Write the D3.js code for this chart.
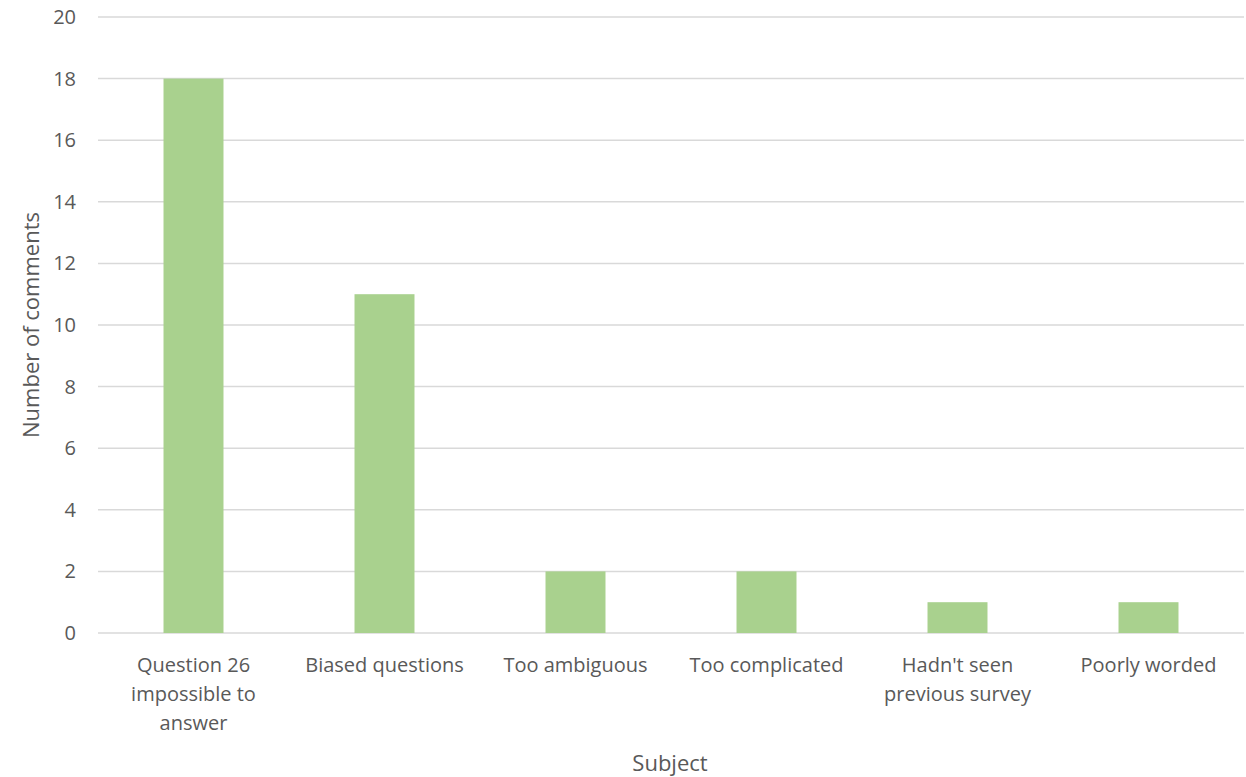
<!DOCTYPE html>
<html><head><meta charset="utf-8">
<script src="https://cdn.jsdelivr.net/npm/d3@7"></script>
<style>body{margin:0;background:#fff}svg{display:block}</style>
</head><body>
<svg id="c" width="1246" height="777"></svg>
<script>
const categories = [["Question 26","impossible to","answer"],["Biased questions"],["Too ambiguous"],["Too complicated"],["Hadn't seen","previous survey"],["Poorly worded"]];
const values = [18, 11, 2, 2, 1, 1];
const yTicks = [0,2,4,6,8,10,12,14,16,18,20];

const svg = d3.select("#c");
const font = "'Open Sans', sans-serif";
const txt = "#595959";
const pLeft = 98, pRight = 1244, pTop = 17, pBottom = 633;
const keys = categories.map((c,i)=>i);
const x = d3.scaleBand().domain(keys).range([pLeft,pRight]).paddingInner(0.686).paddingOuter(0.343);
const y = d3.scaleLinear().domain([0,20]).range([pBottom,pTop]);

svg.append("g").selectAll("line").data(yTicks).join("line")
  .attr("x1",pLeft).attr("x2",pRight).attr("y1",d=>y(d)).attr("y2",d=>y(d))
  .attr("stroke","#d9d9d9").attr("stroke-width",1.5);

svg.append("g").selectAll("text").data(yTicks).join("text")
  .attr("x",76).attr("y",d=>y(d)).attr("dy","0.35em").attr("text-anchor","end")
  .attr("font-family",font).attr("font-size",20).attr("fill",txt).text(d=>d);

svg.append("g").selectAll("rect").data(values).join("rect")
  .attr("x",(d,i)=>x(i)).attr("width",x.bandwidth())
  .attr("y",d=>y(d)).attr("height",d=>y(0)-y(d)).attr("fill","#a9d18e");

const lab = svg.append("g").selectAll("text").data(categories).join("text")
  .attr("text-anchor","middle").attr("font-family",font).attr("font-size",20).attr("fill",txt);
lab.each(function(d,i){
  const t=d3.select(this);
  d.forEach((s,j)=>t.append("tspan").attr("x",x(i)+x.bandwidth()/2).attr("y",665+j*29).attr("dy","0.35em").text(s));
});

svg.append("text").attr("x",(pLeft+pRight)/2 - 1).attr("y",763).attr("dy","0.35em").attr("text-anchor","middle")
  .attr("font-family",font).attr("font-size",22).attr("fill",txt).text("Subject");
svg.append("text").attr("transform","translate(31,325) rotate(-90)").attr("dy","0.35em").attr("text-anchor","middle")
  .attr("font-family",font).attr("font-size",22).attr("fill",txt).text("Number of comments");
</script>
</body></html>
